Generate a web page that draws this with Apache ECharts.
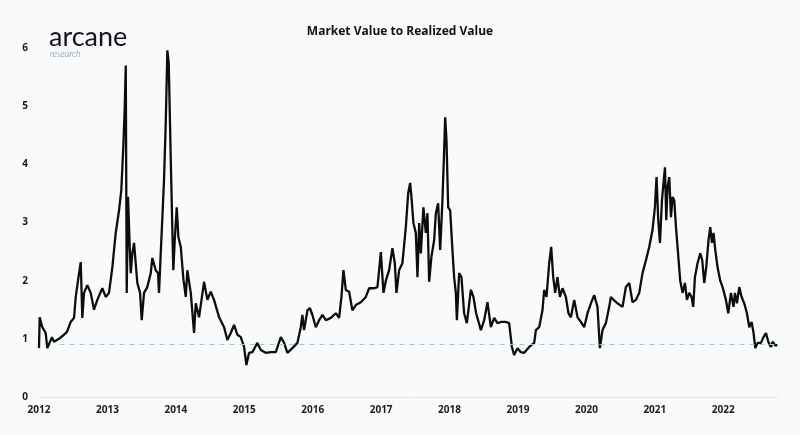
<!DOCTYPE html>
<html>
<head>
<meta charset="utf-8">
<script src="https://cdn.jsdelivr.net/npm/echarts@6/dist/echarts.min.js"></script>
<style>
html,body{margin:0;padding:0;background:#f9fafc;}
#chart{width:800px;height:435px;}
</style>
</head>
<body>
<div id="chart"></div>
<script>
// Time (decimal years) and MVRV values
const years = [
2012.00,2012.01,2012.048,2012.098,2012.121,2012.19,2012.219,2012.292,2012.365,2012.409,2012.463,2012.512,2012.537,2012.570,2012.610,2012.633,2012.658,2012.706,2012.756,2012.804,2012.852,2012.925,2012.975,
2013.023,2013.072,2013.121,2013.170,2013.203,2013.232,2013.253,2013.268,2013.282,2013.301,2013.326,2013.341,2013.364,2013.389,2013.437,2013.477,2013.501,2013.535,2013.583,2013.633,2013.656,2013.706,2013.740,2013.754,2013.779,2013.803,2013.827,2013.852,2013.876,2013.896,2013.925,2013.949,2013.963,2013.984,
2014.013,2014.037,2014.072,2014.110,2014.145,2014.168,2014.218,2014.266,2014.291,2014.339,2014.412,2014.461,2014.510,2014.558,2014.632,2014.705,2014.753,2014.803,2014.851,2014.899,2014.949,2014.997,
2015.031,2015.070,2015.118,2015.192,2015.241,2015.314,2015.387,2015.461,2015.534,2015.582,2015.630,2015.703,2015.776,2015.826,2015.849,2015.874,2015.923,2015.958,2015.996,
2016.045,2016.094,2016.142,2016.192,2016.265,2016.338,2016.386,2016.420,2016.449,2016.484,2016.532,2016.580,2016.630,2016.703,2016.776,2016.825,2016.898,2016.946,2016.996,
2017.034,2017.069,2017.117,2017.165,2017.200,2017.224,2017.263,2017.311,2017.361,2017.395,2017.424,2017.443,2017.472,2017.507,2017.531,2017.556,2017.580,2017.618,2017.653,2017.677,2017.702,2017.735,2017.775,2017.800,2017.833,2017.863,2017.896,2017.921,2017.936,2017.955,2017.980,
2018.009,2018.042,2018.067,2018.092,2018.107,2018.140,2018.174,2018.213,2018.253,2018.311,2018.349,2018.388,2018.458,2018.506,2018.554,2018.604,2018.652,2018.700,2018.750,2018.823,2018.871,2018.911,2018.944,2018.993,
2019.042,2019.091,2019.164,2019.237,2019.262,2019.310,2019.358,2019.383,2019.417,2019.456,2019.485,2019.515,2019.544,2019.577,2019.613,2019.651,2019.700,2019.738,2019.773,2019.822,2019.870,2019.920,2019.968,
2020.016,2020.066,2020.114,2020.162,2020.197,2020.235,2020.285,2020.333,2020.358,2020.406,2020.455,2020.528,2020.577,2020.626,2020.674,2020.724,2020.772,2020.820,2020.870,2020.918,2020.966,
2021.001,2021.025,2021.050,2021.075,2021.104,2021.127,2021.148,2021.167,2021.186,2021.211,2021.236,2021.259,2021.284,2021.309,2021.332,2021.371,2021.405,2021.440,2021.469,2021.503,2021.537,2021.561,2021.586,2021.624,2021.664,2021.693,2021.722,2021.751,2021.785,2021.810,2021.835,2021.858,2021.883,2021.917,2021.956,2021.990,
2022.039,2022.073,2022.112,2022.150,2022.171,2022.200,2022.234,2022.268,2022.307,2022.346,2022.380,2022.414,2022.443,2022.468,2022.502,2022.551,2022.589,2022.624,2022.658,2022.697,2022.721,2022.756,2022.790
];
const mvrv = [
0.84,1.37,1.20,1.10,0.84,1.03,0.95,1.00,1.07,1.12,1.29,1.36,1.72,2.00,2.32,1.36,1.79,1.92,1.79,1.50,1.67,1.87,1.72,
1.79,2.23,2.82,3.21,3.56,4.30,4.98,5.70,1.79,3.44,2.58,2.13,2.47,2.65,1.96,1.79,1.32,1.79,1.89,2.13,2.39,2.18,2.13,1.79,2.47,3.09,3.73,4.70,5.96,5.74,4.12,2.87,2.18,2.70,
3.26,2.75,2.58,2.03,1.72,2.18,1.79,1.10,1.61,1.37,1.98,1.67,1.81,1.67,1.37,1.20,0.98,1.10,1.24,1.07,1.03,0.86,
0.55,0.76,0.77,0.93,0.81,0.76,0.77,0.77,1.03,0.93,0.76,0.84,0.93,1.20,1.41,1.15,1.49,1.53,1.41,
1.20,1.32,1.41,1.32,1.36,1.44,1.36,1.72,2.18,1.84,1.81,1.49,1.58,1.63,1.72,1.87,1.87,1.89,2.49,
1.79,2.00,2.18,2.56,2.30,1.79,2.18,2.30,2.92,3.50,3.68,3.44,2.99,2.82,2.06,2.99,2.47,3.26,2.82,3.16,1.98,2.41,2.70,3.16,3.33,2.53,3.38,4.24,4.81,4.42,3.26,
3.21,2.53,2.06,1.79,1.32,2.13,2.06,1.44,1.27,1.84,1.72,1.44,1.15,1.32,1.63,1.20,1.36,1.27,1.29,1.29,1.27,0.86,0.72,0.84,
0.77,0.76,0.86,0.93,1.15,1.20,1.49,1.84,1.72,2.30,2.58,2.06,1.79,2.06,1.72,1.87,1.72,1.44,1.37,1.67,1.37,1.29,1.20,
1.44,1.61,1.75,1.55,0.84,1.15,1.27,1.55,1.72,1.66,1.61,1.55,1.89,1.96,1.63,1.67,1.79,2.13,2.35,2.58,2.87,
3.26,3.78,3.04,2.65,3.38,3.68,3.95,3.04,3.61,3.78,3.09,3.44,3.38,2.92,2.58,2.00,1.79,1.96,1.67,1.79,1.72,1.55,2.06,2.30,2.47,2.35,1.96,2.23,2.70,2.92,2.65,2.82,2.53,2.23,2.00,1.89,
1.67,1.44,1.79,1.55,1.79,1.61,1.89,1.72,1.61,1.44,1.20,1.29,1.10,0.84,0.93,0.93,1.03,1.10,0.95,0.86,0.95,0.89,0.89
];
const yearTicks = ['2012','2013','2014','2015','2016','2017','2018','2019','2020','2021','2022'];
const thresholdValue = 0.9;
const thresholdRange = [2012.3, 2022.8];

const lineData = years.map((y, i) => [y, mvrv[i]]);

const chart = echarts.init(document.getElementById('chart'), null, {renderer: 'canvas'});
chart.setOption({
  backgroundColor: '#f9fafc',
  animation: false,
  title: {
    text: 'Market Value to Realized Value',
    left: 'center',
    top: 21,
    textStyle: {fontFamily: 'Open Sans', fontSize: 12, fontWeight: 'bold', color: '#111111'}
  },
  graphic: [
    {type: 'text', left: 49, top: 24, style: {text: 'arcane', fontFamily: 'Lato', fontSize: 27, fontWeight: 'normal', fill: '#15151c'}},
    {type: 'text', left: 50, top: 50, style: {text: 'research', fontFamily: 'Lato', fontSize: 9, fontStyle: 'italic', fontWeight: 300, fill: '#6a7494'}}
  ],
  grid: {left: 39, right: 22, top: 48, bottom: 38},
  xAxis: {
    type: 'value',
    min: 2012,
    max: 2022.8,
    interval: 1,
    axisLine: {lineStyle: {color: '#e3e7ee', width: 1}},
    axisTick: {show: false},
    splitLine: {show: false},
    axisLabel: {
      showMaxLabel: false,
      margin: 8,
      fontFamily: 'Open Sans', fontSize: 10, fontWeight: 'bold', color: '#1a1a1a',
      formatter: v => {
        const idx = Math.round(v) - 2012;
        return Math.abs(v - Math.round(v)) < 1e-6 && yearTicks[idx] ? yearTicks[idx] : '';
      }
    }
  },
  yAxis: {
    type: 'value',
    min: 0, max: 6, interval: 1,
    axisLine: {show: false},
    axisTick: {show: false},
    splitLine: {show: false},
    axisLabel: {margin: 11, fontFamily: 'Open Sans', fontSize: 10, fontWeight: 'bold', color: '#1a1a1a'}
  },
  series: [
    {
      type: 'line',
      data: lineData,
      showSymbol: false,
      lineStyle: {color: '#0d0d0d', width: 2.3},
      z: 3,
      markLine: {
        silent: true,
        symbol: 'none',
        label: {show: false},
        lineStyle: {color: '#8fd0d6', type: [5, 5], width: 1},
        data: [[{coord: [thresholdRange[0], thresholdValue]}, {coord: [thresholdRange[1], thresholdValue]}]]
      }
    }
  ]
});
</script>
</body>
</html>
